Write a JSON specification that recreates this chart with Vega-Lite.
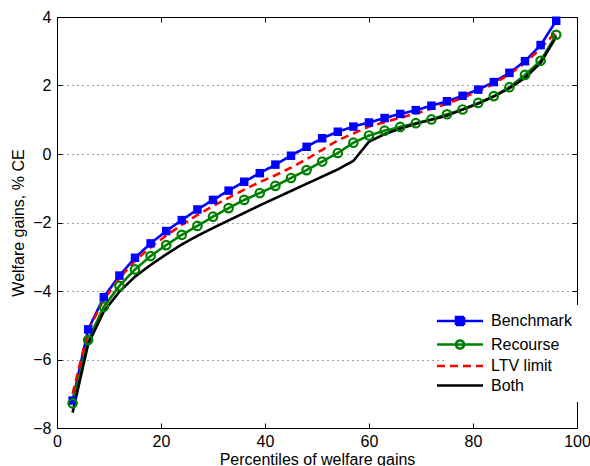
{
  "$schema": "https://vega.github.io/schema/vega-lite/v6.json",
  "width": 520,
  "height": 411,
  "autosize": {"type": "none"},
  "padding": {"left": 57, "top": 17, "right": 13, "bottom": 38},
  "config": {
    "font": "Liberation Sans",
    "view": {"stroke": "#000000", "strokeWidth": 1},
    "axis": {"labelColor": "#000000", "titleColor": "#000000", "tickColor": "#000000", "labelFontSize": 16, "titleFontSize": 16, "titleFontWeight": "normal"}
  },
  "data": {"values": [
    {"p":3,"s":"Benchmark","v":-7.2},{"p":6,"s":"Benchmark","v":-5.12},{"p":9,"s":"Benchmark","v":-4.18},{"p":12,"s":"Benchmark","v":-3.55},
    {"p":15,"s":"Benchmark","v":-3.03},{"p":18,"s":"Benchmark","v":-2.61},{"p":21,"s":"Benchmark","v":-2.25},{"p":24,"s":"Benchmark","v":-1.93},
    {"p":27,"s":"Benchmark","v":-1.62},{"p":30,"s":"Benchmark","v":-1.34},{"p":33,"s":"Benchmark","v":-1.07},{"p":36,"s":"Benchmark","v":-0.81},
    {"p":39,"s":"Benchmark","v":-0.56},{"p":42,"s":"Benchmark","v":-0.31},{"p":45,"s":"Benchmark","v":-0.05},{"p":48,"s":"Benchmark","v":0.21},
    {"p":51,"s":"Benchmark","v":0.46},{"p":54,"s":"Benchmark","v":0.65},{"p":57,"s":"Benchmark","v":0.8},{"p":60,"s":"Benchmark","v":0.92},
    {"p":63,"s":"Benchmark","v":1.05},{"p":66,"s":"Benchmark","v":1.17},{"p":69,"s":"Benchmark","v":1.28},{"p":72,"s":"Benchmark","v":1.41},
    {"p":75,"s":"Benchmark","v":1.54},{"p":78,"s":"Benchmark","v":1.7},{"p":81,"s":"Benchmark","v":1.88},{"p":84,"s":"Benchmark","v":2.1},
    {"p":87,"s":"Benchmark","v":2.37},{"p":90,"s":"Benchmark","v":2.71},{"p":93,"s":"Benchmark","v":3.18},{"p":96,"s":"Benchmark","v":3.89},
    {"p":3,"s":"Recourse","v":-7.28},{"p":6,"s":"Recourse","v":-5.43},{"p":9,"s":"Recourse","v":-4.46},{"p":12,"s":"Recourse","v":-3.85},
    {"p":15,"s":"Recourse","v":-3.37},{"p":18,"s":"Recourse","v":-2.98},{"p":21,"s":"Recourse","v":-2.66},{"p":24,"s":"Recourse","v":-2.36},
    {"p":27,"s":"Recourse","v":-2.1},{"p":30,"s":"Recourse","v":-1.83},{"p":33,"s":"Recourse","v":-1.58},{"p":36,"s":"Recourse","v":-1.34},
    {"p":39,"s":"Recourse","v":-1.14},{"p":42,"s":"Recourse","v":-0.93},{"p":45,"s":"Recourse","v":-0.7},{"p":48,"s":"Recourse","v":-0.47},
    {"p":51,"s":"Recourse","v":-0.22},{"p":54,"s":"Recourse","v":0.03},{"p":57,"s":"Recourse","v":0.33},{"p":60,"s":"Recourse","v":0.54},
    {"p":63,"s":"Recourse","v":0.68},{"p":66,"s":"Recourse","v":0.79},{"p":69,"s":"Recourse","v":0.9},{"p":72,"s":"Recourse","v":1.01},
    {"p":75,"s":"Recourse","v":1.16},{"p":78,"s":"Recourse","v":1.3},{"p":81,"s":"Recourse","v":1.49},{"p":84,"s":"Recourse","v":1.69},
    {"p":87,"s":"Recourse","v":1.95},{"p":90,"s":"Recourse","v":2.31},{"p":93,"s":"Recourse","v":2.72},{"p":96,"s":"Recourse","v":3.48},
    {"p":3,"s":"LTV limit","v":-7.0},{"p":6,"s":"LTV limit","v":-5.15},{"p":9,"s":"LTV limit","v":-4.25},{"p":12,"s":"LTV limit","v":-3.62},
    {"p":15,"s":"LTV limit","v":-3.12},{"p":18,"s":"LTV limit","v":-2.72},{"p":21,"s":"LTV limit","v":-2.38},{"p":24,"s":"LTV limit","v":-2.07},
    {"p":27,"s":"LTV limit","v":-1.78},{"p":30,"s":"LTV limit","v":-1.52},{"p":33,"s":"LTV limit","v":-1.28},{"p":36,"s":"LTV limit","v":-1.04},
    {"p":39,"s":"LTV limit","v":-0.82},{"p":42,"s":"LTV limit","v":-0.62},{"p":45,"s":"LTV limit","v":-0.4},{"p":48,"s":"LTV limit","v":-0.15},
    {"p":51,"s":"LTV limit","v":0.12},{"p":54,"s":"LTV limit","v":0.4},{"p":57,"s":"LTV limit","v":0.6},{"p":60,"s":"LTV limit","v":0.8},
    {"p":63,"s":"LTV limit","v":0.93},{"p":66,"s":"LTV limit","v":1.06},{"p":69,"s":"LTV limit","v":1.18},{"p":72,"s":"LTV limit","v":1.32},
    {"p":75,"s":"LTV limit","v":1.47},{"p":78,"s":"LTV limit","v":1.64},{"p":81,"s":"LTV limit","v":1.83},{"p":84,"s":"LTV limit","v":2.05},
    {"p":87,"s":"LTV limit","v":2.33},{"p":90,"s":"LTV limit","v":2.66},{"p":93,"s":"LTV limit","v":3.08},{"p":96,"s":"LTV limit","v":3.57},
    {"p":3,"s":"Both","v":-7.55},{"p":6,"s":"Both","v":-5.55},{"p":9,"s":"Both","v":-4.6},{"p":12,"s":"Both","v":-4.02},
    {"p":15,"s":"Both","v":-3.58},{"p":18,"s":"Both","v":-3.24},{"p":21,"s":"Both","v":-2.93},{"p":24,"s":"Both","v":-2.64},
    {"p":27,"s":"Both","v":-2.39},{"p":30,"s":"Both","v":-2.16},{"p":33,"s":"Both","v":-1.94},{"p":36,"s":"Both","v":-1.72},
    {"p":39,"s":"Both","v":-1.5},{"p":42,"s":"Both","v":-1.29},{"p":45,"s":"Both","v":-1.08},{"p":48,"s":"Both","v":-0.87},
    {"p":51,"s":"Both","v":-0.66},{"p":54,"s":"Both","v":-0.45},{"p":57,"s":"Both","v":-0.2},{"p":60,"s":"Both","v":0.36},
    {"p":63,"s":"Both","v":0.58},{"p":66,"s":"Both","v":0.74},{"p":69,"s":"Both","v":0.88},{"p":72,"s":"Both","v":1.0},
    {"p":75,"s":"Both","v":1.12},{"p":78,"s":"Both","v":1.3},{"p":81,"s":"Both","v":1.47},{"p":84,"s":"Both","v":1.68},
    {"p":87,"s":"Both","v":1.92},{"p":90,"s":"Both","v":2.22},{"p":93,"s":"Both","v":2.66},{"p":96,"s":"Both","v":3.42}
  ]},
  "resolve": {"axis": {"x": "independent", "y": "independent"}},
  "layer": [
    {
      "mark": {"type": "line", "strokeWidth": 2.6},
      "encoding": {
        "x": {"field": "p", "type": "quantitative", "scale": {"domain": [0, 100], "nice": false},
          "axis": {"values": [0, 20, 40, 60, 80, 100], "ticks": false, "domain": false, "grid": false, "labelPadding": 5, "labelFlush": false, "title": "Percentiles of welfare gains", "titlePadding": 2}},
        "y": {"field": "v", "type": "quantitative", "scale": {"domain": [-8, 4], "nice": false},
          "axis": {"values": [-8, -6, -4, -2, 0, 2, 4], "ticks": false, "domain": false, "grid": true, "gridDash": [1, 4], "gridColor": "#000000", "gridOpacity": 0.75, "gridWidth": 1, "labelPadding": 6, "labelFlush": false, "title": "Welfare gains, % CE", "titlePadding": 6}},
        "color": {"field": "s", "type": "nominal",
          "scale": {"domain": ["Benchmark", "Recourse", "LTV limit", "Both"], "range": ["#0000ff", "#008000", "#ff0000", "#000000"]},
          "legend": {
            "title": null, "orient": "none", "legendX": 387, "legendY": 288,
            "symbolSize": 64, "symbolStrokeWidth": 2.6, "labelFontSize": 16, "labelColor": "#000000", "labelOffset": 23,
            "rowPadding": 3.5, "padding": 8, "fillColor": "#ffffff",
            "encode": {"symbols": {"update": {
              "shape": {"signal": "datum.value === 'Benchmark' ? 'M-5.75,0H5.75M-1,-1H1V1H-1Z' : datum.value === 'Recourse' ? 'M-5.75,0H5.75M1,0A1,1 0 1,1 -1,0A1,1 0 1,1 1,0' : 'M-5.75,0H5.75'"},
              "fill": {"signal": "datum.value === 'Benchmark' ? '#0000ff' : 'transparent'"},
              "strokeDash": {"signal": "datum.value === 'LTV limit' ? [8, 5] : null"}
            }}}
          }},
        "strokeDash": {"field": "s", "type": "nominal",
          "scale": {"domain": ["Benchmark", "Recourse", "LTV limit", "Both"], "range": [[1, 0], [1, 0], [8, 5], [1, 0]]},
          "legend": null}
      }
    },
    {
      "transform": [{"filter": "datum.s === 'Benchmark'"}],
      "mark": {"type": "point", "shape": "square", "filled": true, "color": "#0000ff", "size": 72, "opacity": 1},
      "encoding": {
        "x": {"field": "p", "type": "quantitative",
          "axis": {"orient": "bottom", "values": [0, 20, 40, 60, 80, 100], "labels": false, "domain": false, "grid": false, "ticks": true, "tickSize": -5, "title": null}},
        "y": {"field": "v", "type": "quantitative",
          "axis": {"orient": "left", "values": [-8, -6, -4, -2, 0, 2, 4], "labels": false, "domain": false, "grid": false, "ticks": true, "tickSize": -5, "title": null}}
      }
    },
    {
      "transform": [{"filter": "datum.s === 'Recourse'"}],
      "mark": {"type": "point", "shape": "circle", "filled": false, "color": "#008000", "size": 72, "strokeWidth": 2.2, "opacity": 1},
      "encoding": {
        "x": {"field": "p", "type": "quantitative",
          "axis": {"orient": "top", "values": [0, 20, 40, 60, 80, 100], "labels": false, "domain": false, "grid": false, "ticks": true, "tickSize": -5, "title": null}},
        "y": {"field": "v", "type": "quantitative",
          "axis": {"orient": "right", "values": [-8, -6, -4, -2, 0, 2, 4], "labels": false, "domain": false, "grid": false, "ticks": true, "tickSize": -5, "title": null}}
      }
    }
  ]
}
